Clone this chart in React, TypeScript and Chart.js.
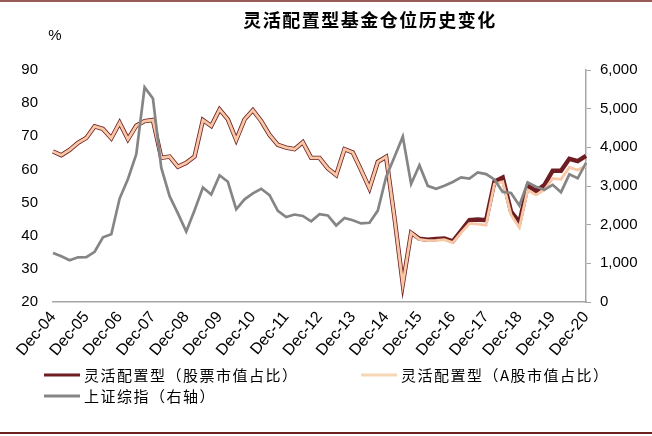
import React, { useEffect, useRef } from 'react';
import { Chart, registerables } from 'chart.js';

Chart.register(...registerables);

const quarterLabels = [
  'Dec-04',
  'Mar-05', 'Jun-05', 'Sep-05', 'Dec-05',
  'Mar-06', 'Jun-06', 'Sep-06', 'Dec-06',
  'Mar-07', 'Jun-07', 'Sep-07', 'Dec-07',
  'Mar-08', 'Jun-08', 'Sep-08', 'Dec-08',
  'Mar-09', 'Jun-09', 'Sep-09', 'Dec-09',
  'Mar-10', 'Jun-10', 'Sep-10', 'Dec-10',
  'Mar-11', 'Jun-11', 'Sep-11', 'Dec-11',
  'Mar-12', 'Jun-12', 'Sep-12', 'Dec-12',
  'Mar-13', 'Jun-13', 'Sep-13', 'Dec-13',
  'Mar-14', 'Jun-14', 'Sep-14', 'Dec-14',
  'Mar-15', 'Jun-15', 'Sep-15', 'Dec-15',
  'Mar-16', 'Jun-16', 'Sep-16', 'Dec-16',
  'Mar-17', 'Jun-17', 'Sep-17', 'Dec-17',
  'Mar-18', 'Jun-18', 'Sep-18', 'Dec-18',
  'Mar-19', 'Jun-19', 'Sep-19', 'Dec-19',
  'Mar-20', 'Jun-20', 'Sep-20', 'Dec-20',
];

// 灵活配置型（股票市值占比）, %
const stockShare = [
  65.4,
  64.3, 65.9, 68.0, 69.5,
  73.0, 72.2, 69.4, 74.1,
  69.1, 73.2, 74.6, 74.9,
  63.5, 63.9, 60.8, 62.0,
  63.9, 74.9, 73.1, 78.1,
  75.1, 68.9, 75.1, 77.9,
  74.6, 70.4, 67.4, 66.6,
  66.1, 68.2, 63.5, 63.5,
  60.3, 58.3, 66.1, 65.1,
  59.8, 54.3, 62.3, 63.8,
  45.5, 25.4, 40.9, 39.1,
  38.8, 39.0, 39.2, 38.3,
  41.5, 44.7, 44.9, 44.7,
  56.3, 57.6, 47.3, 44.0,
  55.1, 53.5, 55.3, 59.6,
  59.6, 63.2, 62.5, 64.1,
];

// 灵活配置型（A股市值占比）, %
const aShare = [
  65.4,
  64.3, 65.9, 68.0, 69.5,
  73.0, 72.2, 69.4, 74.1,
  69.1, 73.2, 74.6, 74.9,
  63.5, 63.9, 60.8, 62.0,
  63.9, 74.9, 73.1, 78.1,
  75.1, 68.9, 75.1, 77.9,
  74.6, 70.4, 67.4, 66.6,
  66.1, 68.2, 63.5, 63.5,
  60.3, 58.3, 66.1, 65.1,
  59.8, 54.3, 62.3, 63.8,
  45.5, 25.4, 40.9, 38.9,
  38.5, 38.6, 38.8, 37.9,
  40.9, 43.7, 43.5, 43.2,
  55.6, 56.3, 46.3, 42.5,
  53.8, 52.3, 53.8, 57.3,
  57.0, 60.6, 59.8, 61.0,
];

// 上证综指（右轴）
const sseIndex = [
  1266,
  1181, 1080, 1155, 1161,
  1299, 1672, 1753, 2675,
  3183, 3821, 5552, 5262,
  3473, 2736, 2293, 1821,
  2373, 2959, 2779, 3277,
  3109, 2398, 2656, 2808,
  2928, 2762, 2359, 2199,
  2262, 2225, 2086, 2269,
  2237, 1979, 2175, 2116,
  2033, 2048, 2364, 3235,
  3748, 4277, 3053, 3539,
  3004, 2930, 3005, 3104,
  3223, 3192, 3349, 3307,
  3169, 2847, 2821, 2494,
  3091, 2979, 2905, 3030,
  2840, 3300, 3200, 3600,
];

const titleText = '灵活配置型基金仓位历史变化';
const unitText = '%';
const seriesNames = [
  '灵活配置型（股票市值占比）',
  '灵活配置型（A股市值占比）',
  '上证综指（右轴）',
];

const LATIN = '"Liberation Sans", Arial, sans-serif';
const CJK = '"Noto Sans CJK SC", sans-serif';

const COLOR_STOCK = '#6E1E22';
const COLOR_A = '#F8C8A6';
const COLOR_A_LEGEND = '#F5D7B8';
const COLOR_SSE = '#858585';
const AXIS_COLOR = '#A6A6A6';

export default function App() {
  const ref = useRef<HTMLCanvasElement | null>(null);

  useEffect(() => {
    document.body.style.margin = '0';
    const canvas = ref.current;
    if (!canvas) return;

    const decor = {
      id: 'decor',
      afterDraw(chart: any) {
        const ctx = chart.ctx as CanvasRenderingContext2D;
        ctx.save();
        // frame lines
        ctx.fillStyle = '#9A5A5A';
        ctx.fillRect(0, 0, 652, 2);
        ctx.fillStyle = '#6B1F1F';
        ctx.fillRect(0, 432, 652, 2);

        // title
        ctx.fillStyle = '#000';
        ctx.textAlign = 'center';
        ctx.textBaseline = 'middle';
        (ctx as any).letterSpacing = '1.5px';
        ctx.font = `bold 18px ${CJK}`;
        ctx.fillText(titleText, 370, 20);

        // unit
        (ctx as any).letterSpacing = '0px';
        ctx.font = `15px ${LATIN}`;
        ctx.fillText(unitText, 55, 36);

        // legend
        const items = [
          { x: 44, y: 375, color: COLOR_STOCK, text: seriesNames[0] },
          { x: 361, y: 375, color: COLOR_A_LEGEND, text: seriesNames[1] },
          { x: 44, y: 396, color: COLOR_SSE, text: seriesNames[2] },
        ];
        ctx.textAlign = 'left';
        ctx.font = `15px ${CJK}`;
        (ctx as any).letterSpacing = '1.5px';
        for (const it of items) {
          ctx.strokeStyle = it.color;
          ctx.lineWidth = 3;
          ctx.beginPath();
          ctx.moveTo(it.x, it.y);
          ctx.lineTo(it.x + 36, it.y);
          ctx.stroke();
          ctx.fillStyle = '#000';
          ctx.fillText(it.text, it.x + 40, it.y);
        }
        ctx.restore();
      },
    };

    const chart = new Chart(canvas, {
      type: 'line',
      data: {
        labels: quarterLabels,
        datasets: [
          {
            label: seriesNames[2],
            data: sseIndex,
            yAxisID: 'y1',
            borderColor: COLOR_SSE,
            borderWidth: 2.7,
            pointRadius: 0,
            tension: 0,
          },
          {
            label: seriesNames[1],
            data: aShare,
            yAxisID: 'y',
            borderColor: COLOR_A,
            borderWidth: 2.8,
            pointRadius: 0,
            tension: 0,
          },
          {
            label: seriesNames[0],
            data: stockShare,
            yAxisID: 'y',
            borderColor: COLOR_STOCK,
            borderWidth: 4.4,
            pointRadius: 0,
            tension: 0,
          },
        ],
      },
      options: {
        responsive: false,
        animation: false,
        layout: { padding: { top: 70, left: 0, right: 0, bottom: 0 } },
        plugins: {
          legend: { display: false },
          tooltip: { enabled: false },
          title: { display: false },
        },
        scales: {
          x: {
            type: 'category',
            offset: false,
            grid: { display: false, drawTicks: false },
            border: { display: true, color: AXIS_COLOR, width: 1.5 },
            ticks: {
              autoSkip: false,
              maxRotation: 50,
              minRotation: 50,
              padding: 6,
              color: '#000',
              font: { family: LATIN, size: 16 },
              callback: (_v: any, i: number) => {
                const l = quarterLabels[i];
                return l.startsWith('Dec') ? l : null;
              },
            },
            afterFit: (s: any) => {
              s.height = 134;
            },
          },
          y: {
            position: 'left',
            min: 20,
            max: 90,
            ticks: {
              stepSize: 10,
              padding: 15,
              color: '#000',
              font: { family: LATIN, size: 15 },
            },
            grid: { display: false, drawTicks: false },
            border: { display: false },
            afterFit: (s: any) => {
              s.width = 53;
            },
          },
          y1: {
            position: 'right',
            min: 0,
            max: 6000,
            ticks: {
              stepSize: 1000,
              padding: 9,
              color: '#000',
              font: { family: LATIN, size: 15 },
              callback: (v: any) => Number(v).toLocaleString('en-US'),
            },
            grid: {
              display: true,
              drawOnChartArea: false,
              drawTicks: true,
              tickLength: 5,
              color: AXIS_COLOR,
            },
            border: { display: true, color: AXIS_COLOR, width: 1.5 },
            afterFit: (s: any) => {
              s.width = 66;
            },
          },
        },
      },
      plugins: [decor],
    } as any);

    return () => {
      chart.destroy();
    };
  }, []);

  return (
    <div style={{ width: 652, height: 436 }}>
      <canvas ref={ref} width={652} height={436} style={{ display: 'block' }} />
    </div>
  );
}
